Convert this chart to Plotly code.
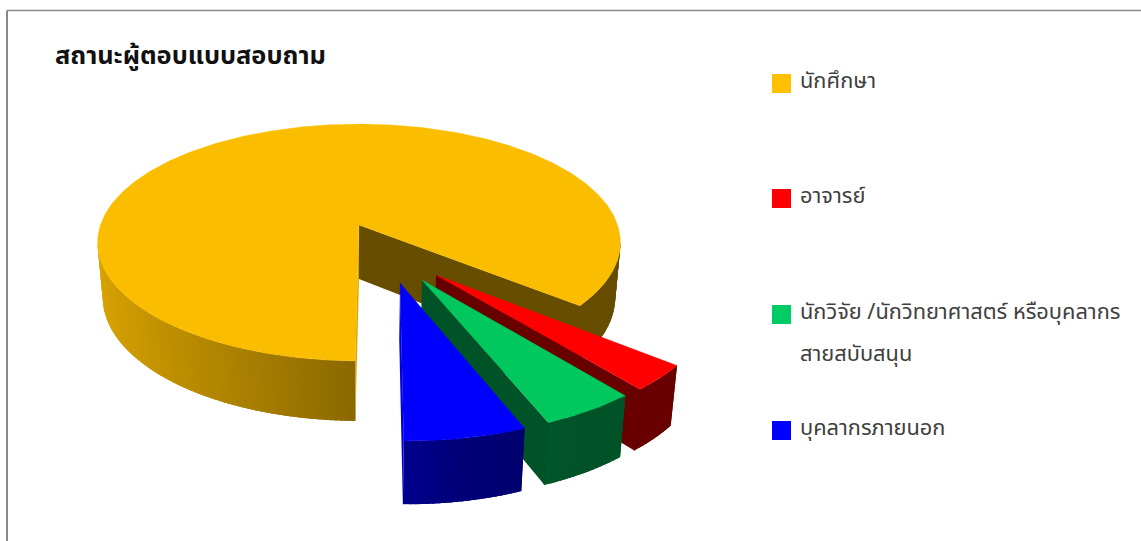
import numpy as np
import plotly.graph_objects as go

# ---- data ----
legend_lines = [["นักศึกษา"], ["อาจารย์"], ["นักวิจัย /นักวิทยาศาสตร์ หรือบุคลากร", "สายสบับสนุน"], ["บุคลากรภายนอก"]]
values = [85.7, 3.3, 4.9, 6.1]
top_colors = ["#FBBD00", "#FF0000", "#00C85F", "#0000FF"]
legend_colors = ["#FFC000", "#FF0000", "#00CC66", "#0000FF"]
pull_distance = [0.0, 0.493, 0.498, 0.489]
pull_angle = [0.0, 34.6, 27.2, 17.6]
slice_radius = [1.0, 0.985, 0.985, 0.995]
title_text = "<b>สถานะผู้ตอบแบบสอบถาม</b>"
start_angle = -0.7
FONT = "Noto Sans Thai, Noto Sans, Tahoma, sans-serif"

# ---- 3D view of the disc ----
CX, CY = 359.0, 225.0
R, K, P = 258.6, 115.9, 0.1477
DEPTH, SHRINK, STRETCH = 54.0, 0.98, 1.043
TANGENT = 82.0


def project(u, v, bottom=False):
    u, v = np.asarray(u, float), np.asarray(v, float)
    s = 1 / (1 - P * v)
    x = R * u * s
    y = K * v * s
    if bottom:
        x = x * SHRINK
        y = y * STRETCH + DEPTH
    return CX + x, CY + y


def rgb(hex_color, k):
    c = [int(hex_color[i:i + 2], 16) for i in (1, 3, 5)]
    return "rgb(%d,%d,%d)" % tuple(round(min(255, v * k)) for v in c)


def shade(u):
    return float(np.interp(u, [-1, 0, 0.17, 0.5, 1], [0.87, 0.55, 0.47, 0.41, 0.41]))


fig = go.Figure()


def poly(x, y, color, stroke=0.0):
    fig.add_trace(go.Scatter(x=list(x), y=list(y), mode="lines", fill="toself", fillcolor=color,
                             line=dict(color=color, width=stroke), showlegend=False, hoverinfo="skip"))


def flat_wall(du, dv, rad, theta, color, cover=False):
    a = np.radians(theta)
    u, v = np.array([du, du + rad * np.sin(a)]), np.array([dv, dv + rad * np.cos(a)])
    xt, yt = project(u, v)
    xb, yb = project(u, v, True)
    poly([xt[0], xt[1], xb[1], xb[0], xt[0]], [yt[0], yt[1], yb[1], yb[0], yt[0]], color)
    if cover:
        # closes the hairline where this face meets the outer wall
        fig.add_trace(go.Scatter(x=[xt[1], xb[1]], y=[yt[1], yb[1]], mode="lines", showlegend=False,
                                 hoverinfo="skip", line=dict(color=color, width=1.6)))


def strips(du, dv, rad, col, r0, r1):
    """Outer wall painted in thin strips, each one overlapping the next to hide the seams."""
    step = (r1 - r0) / max(2, int(abs(r1 - r0) / 1.0))
    n = int(round((r1 - r0) / step))
    for k in range(n):
        a0 = r0 + k * step
        a1 = min(a0 + 2.5 * step, r1) if step > 0 else max(a0 + 2.5 * step, r1)
        aa = np.radians(np.linspace(a0, a1, 5))
        u, v = du + rad * np.sin(aa), dv + rad * np.cos(aa)
        xt, yt = project(u, v)
        xb, yb = project(u, v, True)
        poly(list(xt) + list(xb[::-1]) + [xt[0]], list(yt) + list(yb[::-1]) + [yt[0]],
             rgb(col, shade(np.sin(np.radians(a0 + step / 2)))))


def draw_slice(i, t0, t1):
    """t0 is the clockwise start of the slice and t1 its end (t1 < t0), in degrees from the front."""
    col = top_colors[i]
    a = np.radians(pull_angle[i])
    du, dv = pull_distance[i] * np.sin(a), pull_distance[i] * np.cos(a)
    rad = slice_radius[i]
    hi = t0 if i else t1 + 360
    lo = t1 if i else t0 + 360
    if i == 0:
        strips(du, dv, rad, col, hi, TANGENT)
        strips(du, dv, rad, col, 360 - TANGENT, lo)
        flat_wall(du, dv, rad, hi, rgb(col, 0.41), True)
        flat_wall(du, dv, rad, lo, rgb(col, 0.87))
    else:
        strips(du, dv, rad, col, lo, hi)
        flat_wall(du, dv, rad, lo, rgb(col, 0.87 if i == 3 else 0.41), i != 3)
    th = np.radians(np.linspace(hi, lo, 400))
    u = np.r_[du, du + rad * np.sin(th), du]
    v = np.r_[dv, dv + rad * np.cos(th), dv]
    xt, yt = project(u, v)
    poly(xt, yt, col, 0.3)


bounds = start_angle - np.cumsum([0] + [v / sum(values) * 360 for v in values])
for i in range(4):
    draw_slice(i, bounds[i], bounds[i + 1])

# ---- legend ----
legend_y = [83.5, 198.5, 314.5, 430.5]
LINE_GAP = 42
fig.add_trace(go.Scatter(x=[781.5] * 4, y=legend_y, mode="markers", showlegend=False, hoverinfo="skip",
                         marker=dict(symbol="square", size=19, color=legend_colors, line=dict(width=0))))
annotations = [dict(x=53, y=56, text=title_text, xref="x", yref="y", xanchor="left", yanchor="middle",
                    showarrow=False, font=dict(family=FONT, size=25.4, color="#111111"))]
for lines, ly in zip(legend_lines, legend_y):
    for j, line in enumerate(lines):
        annotations.append(dict(x=797.5, y=ly - 2 + j * LINE_GAP, text=line, xref="x", yref="y", xanchor="left",
                                yanchor="middle", showarrow=False,
                                font=dict(family=FONT, size=21.8, color="#404040")))

fig.update_layout(
    width=1141, height=541, margin=dict(l=0, r=0, t=0, b=0), paper_bgcolor="white", plot_bgcolor="white",
    xaxis=dict(visible=False, range=[0, 1141], fixedrange=True),
    yaxis=dict(visible=False, range=[541, 0], fixedrange=True),
    annotations=annotations,
    shapes=[dict(type="line", x0=1141, x1=7, y0=10.5, y1=10.5, line=dict(color="#888888", width=1.5)),
            dict(type="line", x0=7, x1=7, y0=10.5, y1=541, line=dict(color="#888888", width=2))],
)
fig.write_html("out.html", config={"displayModeBar": False},
               post_script="document.body.style.margin='0';document.body.style.overflow='hidden';")
